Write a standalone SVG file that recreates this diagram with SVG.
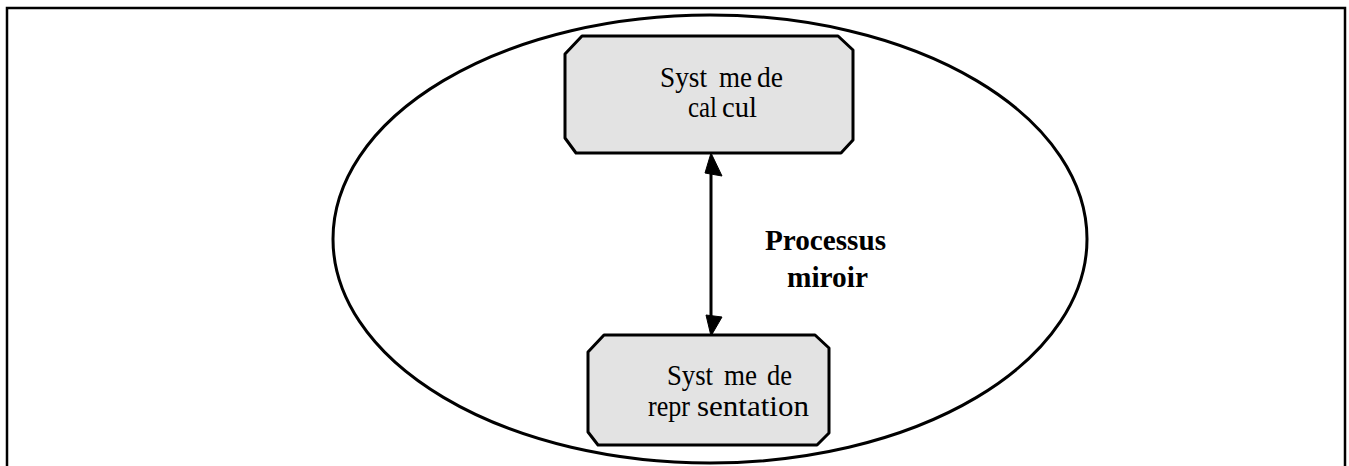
<svg xmlns="http://www.w3.org/2000/svg" width="1349" height="466" viewBox="0 0 1349 466">
  <style>
    .frame { fill: none; stroke: #000; stroke-width: 2.5; }
    .outer { fill: none; stroke: #000; stroke-width: 3; }
    .box { fill: #e3e3e3; stroke: #000; stroke-width: 3; stroke-linejoin: round; }
    .lbl { font-family: "Liberation Serif", "Times New Roman", serif; font-size: 30px; fill: #000; }
    .bold { font-weight: bold; }
    .link { stroke: #000; stroke-width: 3; fill: none; }
    .head { fill: #000; stroke: #000; stroke-width: 1; stroke-linejoin: round; }
  </style>

  <!-- page frame, open at the bottom -->
  <path class="frame" d="M7,466 V8 H1345 V466"/>

  <!-- enclosing ellipse -->
  <ellipse class="outer" cx="710" cy="239" rx="377" ry="224"/>

  <g id="calcul">
    <polygon class="box" points="582,36 838,36 853,50 853,140 841,153 576,153 565,138 565,54"/>
    <text class="lbl">
      <tspan x="660" y="87" textLength="47" lengthAdjust="spacingAndGlyphs">Syst</tspan>
      <tspan x="719" y="87" textLength="33" lengthAdjust="spacingAndGlyphs">me</tspan>
      <tspan x="757" y="87" textLength="26" lengthAdjust="spacingAndGlyphs">de</tspan>
    </text>
    <text class="lbl">
      <tspan x="688" y="117" textLength="29" lengthAdjust="spacingAndGlyphs">cal</tspan>
      <tspan x="722" y="117" textLength="35" lengthAdjust="spacingAndGlyphs">cul</tspan>
    </text>
  </g>

  <g id="representation">
    <polygon class="box" points="604,335 815,335 829,348 829,433 817,445 598,445 588,432 588,352"/>
    <text class="lbl">
      <tspan x="667" y="385" textLength="46" lengthAdjust="spacingAndGlyphs">Syst</tspan>
      <tspan x="724" y="385" textLength="33" lengthAdjust="spacingAndGlyphs">me</tspan>
      <tspan x="767" y="385" textLength="25" lengthAdjust="spacingAndGlyphs">de</tspan>
    </text>
    <text class="lbl">
      <tspan x="648" y="416" textLength="42" lengthAdjust="spacingAndGlyphs">repr</tspan>
      <tspan x="697" y="416" textLength="112" lengthAdjust="spacingAndGlyphs">sentation</tspan>
    </text>
  </g>

  <g id="connectors">
    <line class="link" x1="711" y1="165" x2="711" y2="325"/>
    <polygon class="head" points="711,153 705,173 722,176"/>
    <polygon class="head" points="711,336 706,315 722,317"/>
  </g>

  <g id="processus-miroir">
    <text class="lbl bold">
      <tspan x="765" y="250" textLength="121" lengthAdjust="spacingAndGlyphs">Processus</tspan>
      <tspan x="787" y="287" textLength="81" lengthAdjust="spacingAndGlyphs">miroir</tspan>
    </text>
  </g>
</svg>
